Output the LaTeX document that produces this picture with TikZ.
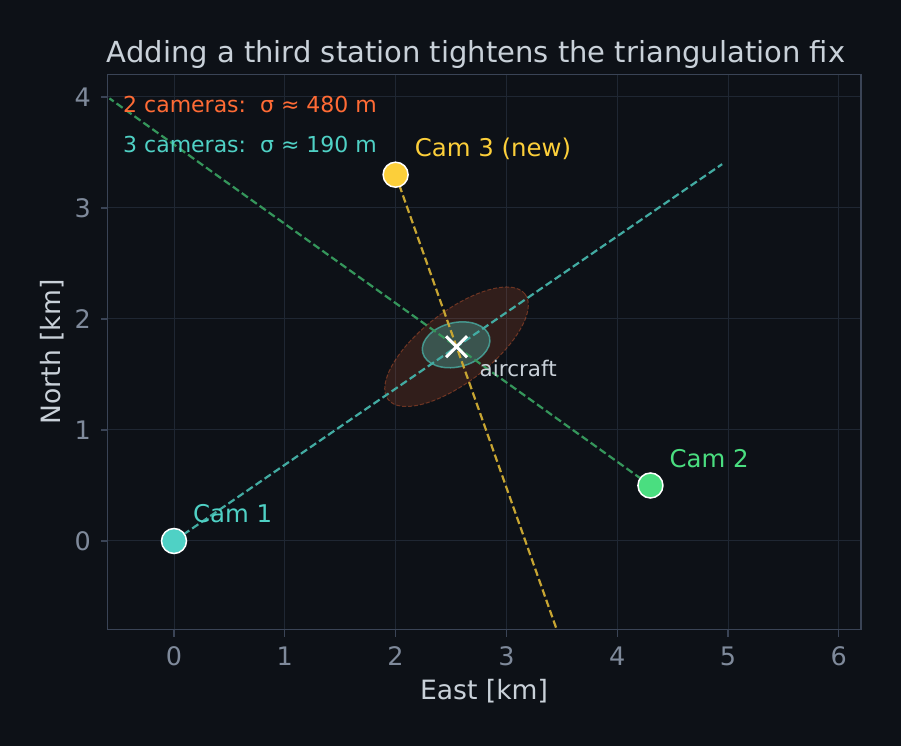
\documentclass[tikz,border=0pt]{standalone}
\usepackage{fontspec}
\setmainfont{DejaVu Sans}
\usetikzlibrary{calc, shapes.misc}

\definecolor{bgcol}{HTML}{0D1117}
\definecolor{gridcol}{HTML}{1F2733}
\definecolor{framecol}{HTML}{3A4456}
\definecolor{tickcol}{HTML}{7F8A9B}
\definecolor{textcol}{HTML}{C9D1D9}
\definecolor{camone}{HTML}{4FD1C5}
\definecolor{camtwo}{HTML}{4ADE80}
\definecolor{camthree}{HTML}{FCCF3A}
\definecolor{twocam}{HTML}{FF6B35}

\begin{document}
\begin{tikzpicture}
  [
    x=1pt, y=1pt,
    cam/.style={circle,draw=white,line width=1.5pt,minimum size=25pt,inner sep=0pt},
    ray/.style={line width=2.2pt,dash pattern=on 7.5pt off 3.5pt},
    camlabel/.style={anchor=base west,inner sep=0pt,font=\fontsize{24.4}{28}\selectfont},
    ticklabel/.style={text=tickcol,inner sep=0pt,font=\fontsize{25.5}{28}\selectfont},
    axlabel/.style={text=textcol,anchor=base,font=\fontsize{26.6}{30}\selectfont},
    legend/.style={anchor=base west,inner sep=0pt,font=\fontsize{22}{26}\selectfont}
  ]
  % background
  \fill[bgcol] (0,0) rectangle (901,746);
  % title and axis labels
  \node[axlabel,font=\fontsize{29}{34}\selectfont] (title) at (476,683)
    {Adding a third station tightens the triangulation fix};
  \node[axlabel] (xlab) at (484,46) {East [km]};
  \node[axlabel,rotate=90] (ylab) at (60,394) {North [km]};
  % data area, 1 km = 110.8 px
  \begin{scope}[shift={(174pt,205pt)},x=110.8pt,y=111pt]
    % grid
    \foreach \x in {0,...,6} {
      \draw[gridcol,line width=1pt] (\x,-0.8) -- (\x,4.2);
    }
    \foreach \y in {0,...,4} {
      \draw[gridcol,line width=1pt] (-0.6,\y) -- (6.2,\y);
    }
    % ticks
    \foreach \x in {0,...,6} {
      \draw[framecol,line width=1.2pt] (\x,-0.8) -- ++(0,-7pt);
      \node[ticklabel,anchor=north] (xt\x) at ([yshift=-17pt]\x,-0.8) {\x};
    }
    \foreach \y in {0,...,4} {
      \draw[framecol,line width=1.2pt] (-0.6,\y) -- ++(-7pt,0);
      \node[ticklabel,anchor=east] (yt\y) at ([xshift=-16.5pt]-0.6,\y) {\y};
    }
    % stations and fix
    \coordinate (c1) at (0,0);
    \coordinate (c2) at (4.3,0.5);
    \coordinate (c3) at (2,3.3);
    \coordinate (ac) at (2.55,1.75);
    \coordinate (r1) at ($(c1)!1.94!(ac)$);
    \coordinate (r2) at ($(c2)!2.79!(ac)$);
    \coordinate (r3) at ($(c3)!3.65!(ac)$);
    \begin{scope}
      \clip (-0.6,-0.8) rectangle (6.2,4.2);
      % error ellipses
      \draw[twocam,fill opacity=0.15,draw opacity=0.35,fill=twocam,line width=1pt,
        dash pattern=on 4pt off 2pt,rotate around={37.6:(ac)}]
        (ac) ellipse [x radius=0.78,y radius=0.32];
      \draw[camone,fill=camone,fill opacity=0.3,draw opacity=0.6,line width=1.5pt,
        rotate around={13:(ac)}]
        ([yshift=2pt]ac) ellipse [x radius=0.31,y radius=0.2];
      % bearing rays
      \draw[ray,camone!80!bgcol] (c1) -- (r1);
      \draw[ray,camtwo!65!bgcol] (c2) -- (r2);
      \draw[ray,camthree!78!bgcol] (c3) -- (r3);
    \end{scope}
    % frame
    \draw[framecol,line width=1.2pt] (-0.6,-0.8) rectangle (6.2,4.2);
    % aircraft
    \node[cross out,draw=white,line width=3pt,minimum size=18pt,inner sep=0pt] (aircraft) at (ac) {};
    \node[legend,text=textcol,font=\fontsize{21.5}{26}\selectfont] (aclab)
      at ([shift={(23pt,-30pt)}]aircraft.center) {aircraft};
    % cameras
    \node[cam,fill=camone] (cam1) at (c1) {};
    \node[cam,fill=camtwo] (cam2) at (c2) {};
    \node[cam,fill=camthree] (cam3) at (c3) {};
    \node[camlabel,text=camone] (lab1) at ([shift={(19pt,18pt)}]cam1.center) {Cam 1};
    \node[camlabel,text=camtwo] (lab2) at ([shift={(19pt,18pt)}]cam2.center) {Cam 2};
    \node[camlabel,text=camthree] (lab3) at ([shift={(19pt,18pt)}]cam3.center) {Cam 3 (new)};
  \end{scope}
  % legend text
  \node[legend,text=twocam] (leg2) at (123,633) {2 cameras:\ \ σ ≈ 480 m};
  \node[legend,text=camone] (leg3) at (123,593) {3 cameras:\ \ σ ≈ 190 m};
\end{tikzpicture}
\end{document}
